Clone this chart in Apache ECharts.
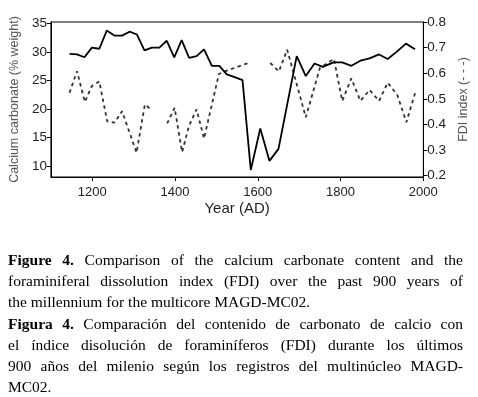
<!DOCTYPE html>
<html>
<head>
<meta charset="utf-8">
<script src="https://cdn.jsdelivr.net/npm/echarts@6/dist/echarts.min.js"></script>
<style>
  html, body { margin: 0; padding: 0; background: #fff; }
  #wrap { position: relative; width: 478px; height: 397px; overflow: hidden; }
  #chart { position: absolute; left: 0; top: 0; width: 478px; height: 397px; }
  #caption { position: absolute; left: 8px; top: 249px; width: 455px;
    font-family: 'Liberation Serif', 'Times New Roman', serif; font-size: 15.5px;
    line-height: 21.2px; color: #000; }
  #caption div { text-align: justify; text-align-last: justify; white-space: nowrap; }
  #caption div.last { text-align-last: left; }
</style>
</head>
<body>
<div id="wrap">
  <div id="chart"></div>
  <div id="caption">
    <div><b>Figure 4.</b> Comparison of the calcium carbonate content and the</div>
    <div>foraminiferal dissolution index (FDI) over the past 900 years of</div>
    <div class="last">the millennium for the multicore MAGD-MC02.</div>
    <div><b>Figura 4.</b> Comparación del contenido de carbonato de calcio con</div>
    <div>el índice disolución de foraminíferos (FDI) durante los últimos</div>
    <div>900 años del milenio según los registros del multinúcleo MAGD-</div>
    <div class="last">MC02.</div>
  </div>
</div>
<script>
// Calcium carbonate (% weight) – solid line
const caYears  = [1145,1163,1181,1199,1217,1235,1254,1272,1290,1308,1326,1344,1362,1380,1398,1416,1434,1452,1470,1489,1507,1525,1544,1563,1583,1606,1628,1650,1694,1716,1737,1757,1783,1804,1826,1848,1870,1893,1914,1936,1958,1980];
const caValues = [29.7,29.6,29.1,30.8,30.6,33.8,32.9,32.9,33.6,33.1,30.3,30.8,30.8,32.0,29.1,32.1,29.0,29.3,30.5,27.6,27.6,26.1,25.6,25.1,9.3,16.6,10.9,13.0,29.3,25.8,28.0,27.4,28.2,28.2,27.6,28.5,28.9,29.6,28.8,30.1,31.5,30.5];

// FDI index – dashed line (null = gap in record)
const fdiYears  = [1145,1163,1182,1199,1217,1236,1254,1272,1307,1327,1345,1363,1381,1399,1417,1434,1452,1470,1506,1525,1563,1583,1606,1630,1651,1671,1716,1750,1784,1804,1826,1848,1870,1893,1914,1937,1959,1980];
const fdiValues = [0.524,0.608,0.488,0.55,0.568,0.412,0.407,0.452,0.29,0.478,0.455,null,0.404,0.465,0.292,0.396,0.459,0.345,0.597,0.61,0.632,0.643,null,0.64,0.607,0.692,0.428,0.62,0.656,0.492,0.58,0.492,0.535,0.492,0.563,0.515,0.409,0.522];

// Tick labels
const xTicks = [1200,1400,1600,1800,2000];
const leftTicks = [10,15,20,25,30,35];
const rightTicks = [0.2,0.3,0.4,0.5,0.6,0.7,0.8];

const caData = caYears.map((y,i)=>[y, caValues[i]]);
const fdiData = fdiYears.map((y,i)=>[y, fdiValues[i] === null ? '-' : fdiValues[i]]);

const font = "'Liberation Sans', Arial, sans-serif";
const chart = echarts.init(document.getElementById('chart'), null, {renderer:'canvas'});
chart.setOption({
  animation: false,
  backgroundColor: '#fff',
  grid: { left: 43, right: 50, top: 22, bottom: 220, show: true, borderColor: '#000', borderWidth: 1, backgroundColor: 'transparent' },
  xAxis: {
    type: 'value', min: 1100, max: 2000,
    name: 'Year (AD)', nameLocation: 'middle', nameGap: 24,
    nameTextStyle: { fontFamily: font, fontSize: 15, color: '#222' },
    axisLine: { show: true, onZero: false, lineStyle: { color: '#000', width: 1 } },
    axisTick: { show: true, inside: false, length: 4, customValues: xTicks, lineStyle: { color: '#000' } },
    axisLabel: { customValues: xTicks, margin: 9, fontFamily: font, fontSize: 13, color: '#222',
      formatter: v => String(v) },
    splitLine: { show: false }
  },
  yAxis: [
    {
      type: 'value', min: 8.06, max: 35.3, position: 'left',
      name: 'Calcium carbonate (% weight)', nameLocation: 'middle', nameGap: 25,
      nameTextStyle: { fontFamily: font, fontSize: 12.5, color: '#555' },
      axisLine: { show: true, onZero: false, lineStyle: { color: '#000', width: 1 } },
      axisTick: { show: true, inside: false, length: 4, customValues: leftTicks, lineStyle: { color: '#000' } },
      axisLabel: { customValues: leftTicks, margin: 4, fontFamily: font, fontSize: 13.5, color: '#222' },
      splitLine: { show: false }
    },
    {
      type: 'value', min: 0.195, max: 0.8, position: 'right',
      name: 'FDI index (- - -)', nameLocation: 'middle', nameGap: 25,
      nameTextStyle: { fontFamily: font, fontSize: 12.5, color: '#555' },
      axisLine: { show: true, onZero: false, lineStyle: { color: '#000', width: 1 } },
      axisTick: { show: true, inside: false, length: 4, customValues: rightTicks, lineStyle: { color: '#000' } },
      axisLabel: { customValues: rightTicks, margin: 4, fontFamily: font, fontSize: 13.5, color: '#222',
        formatter: v => v.toFixed(1) },
      splitLine: { show: false }
    }
  ],
  series: [
    { type: 'line', yAxisIndex: 1, data: fdiData, connectNulls: false, symbol: 'none',
      lineStyle: { color: '#333', width: 1.8, type: [3.5, 3.5] } },
    { type: 'line', yAxisIndex: 0, data: caData, symbol: 'none',
      lineStyle: { color: '#000', width: 1.8 } }
  ]
});
</script>
</body>
</html>
